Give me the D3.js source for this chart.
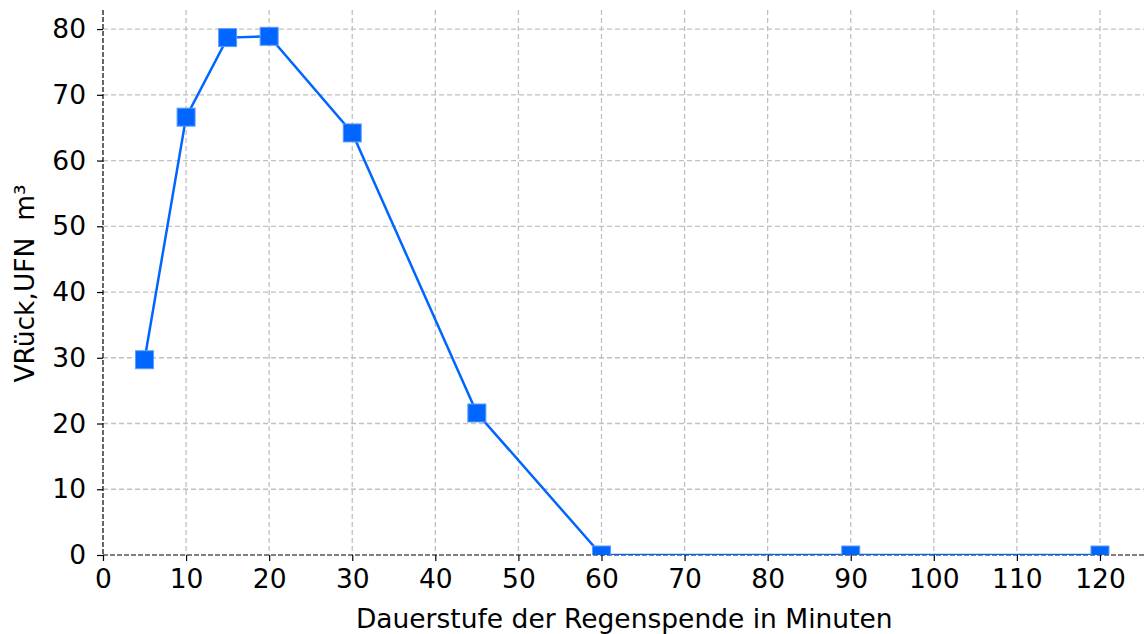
<!DOCTYPE html>
<html>
<head>
<meta charset="utf-8">
<script src="https://cdn.jsdelivr.net/npm/d3@7"></script>
<style>
  body { margin: 0; background: #fff; }
  text { font-family: "DejaVu Sans", sans-serif; fill: #000; }
</style>
</head>
<body>
<div id="chart"></div>
<script>
// data
var minutes = [5, 10, 15, 20, 30, 45, 60, 90, 120];
var volume = [29.7, 66.6, 78.7, 78.9, 64.2, 21.6, 0, 0, 0];
var xTicks = [0, 10, 20, 30, 40, 50, 60, 70, 80, 90, 100, 110, 120];
var yTicks = [0, 10, 20, 30, 40, 50, 60, 70, 80];
var xLabel = 'Dauerstufe der Regenspende in Minuten';
var yLabel = 'VRück,UFN  m³';

var W = 1144, H = 634;
var margin = {top: 10, right: 0, bottom: 79, left: 103};
var width = W - margin.left - margin.right;
var height = H - margin.top - margin.bottom;
var fs = '26.5px';

var svg = d3.select('#chart').append('svg')
    .attr('width', W)
    .attr('height', H);

var g = svg.append('g')
    .attr('transform', 'translate(' + margin.left + ',' + margin.top + ')');

var x = d3.scaleLinear().domain([0, 125.3]).range([0, width]);
var y = d3.scaleLinear().domain([0, 82.9]).range([height, 0]);

svg.append('defs').append('clipPath').attr('id', 'plotclip')
    .append('rect').attr('width', width).attr('height', height);

// grid
g.append('g').selectAll('line').data(xTicks.slice(1)).enter().append('line')
    .attr('x1', d => x(d)).attr('x2', d => x(d))
    .attr('y1', 0).attr('y2', height)
    .attr('stroke', '#c0c0c0').attr('stroke-width', 1.3)
    .attr('stroke-dasharray', '5,3');
g.append('g').selectAll('line').data(yTicks.slice(1)).enter().append('line')
    .attr('x1', 0).attr('x2', width)
    .attr('y1', d => y(d)).attr('y2', d => y(d))
    .attr('stroke', '#c0c0c0').attr('stroke-width', 1.3)
    .attr('stroke-dasharray', '5,3');

// axes
var xAxis = d3.axisBottom(x).tickValues(xTicks).tickSize(6).tickPadding(8);
var yAxis = d3.axisLeft(y).tickValues(yTicks).tickSize(6).tickPadding(11);

var gx = g.append('g').attr('transform', 'translate(0,' + height + ')').call(xAxis);
var gy = g.append('g').call(yAxis);
[gx, gy].forEach(function(a) {
    a.attr('font-size', null).attr('font-family', null);
    a.select('.domain').remove();
    a.selectAll('line').attr('stroke', '#000').attr('stroke-width', 1.2);
    a.selectAll('text').style('font-size', fs).attr('fill', '#000');
});

// dashed spines
g.append('line').attr('x1', 0).attr('x2', width).attr('y1', height).attr('y2', height)
    .attr('stroke', '#000').attr('stroke-width', 1.2).attr('stroke-dasharray', '5,2');
g.append('line').attr('x1', 0).attr('x2', 0).attr('y1', 0).attr('y2', height)
    .attr('stroke', '#000').attr('stroke-width', 1.2).attr('stroke-dasharray', '5,2');

// series
var pts = minutes.map((m, i) => [m, volume[i]]);
var plot = g.append('g').attr('clip-path', 'url(#plotclip)');
plot.append('path')
    .attr('d', d3.line().x(d => x(d[0])).y(d => y(d[1]))(pts))
    .attr('fill', 'none')
    .attr('stroke', '#0066ff')
    .attr('stroke-width', 2.5);
var ms = 18;
plot.selectAll('rect.mk').data(pts).enter().append('rect')
    .attr('class', 'mk')
    .attr('x', d => x(d[0]) - ms / 2)
    .attr('y', d => y(d[1]) - ms / 2)
    .attr('width', ms).attr('height', ms)
    .attr('fill', '#0066ff')
    .attr('stroke', '#5c9cff').attr('stroke-width', 1);

// labels
svg.append('text')
    .attr('x', margin.left + x(62.5) + 2).attr('y', 628)
    .attr('text-anchor', 'middle')
    .style('font-size', fs)
    .text(xLabel);
svg.append('text')
    .attr('transform', 'translate(34,' + (margin.top + height / 2 + 1) + ') rotate(-90)')
    .attr('text-anchor', 'middle')
    .style('font-size', fs)
    .style('white-space', 'pre')
    .text(yLabel);
</script>
</body>
</html>
